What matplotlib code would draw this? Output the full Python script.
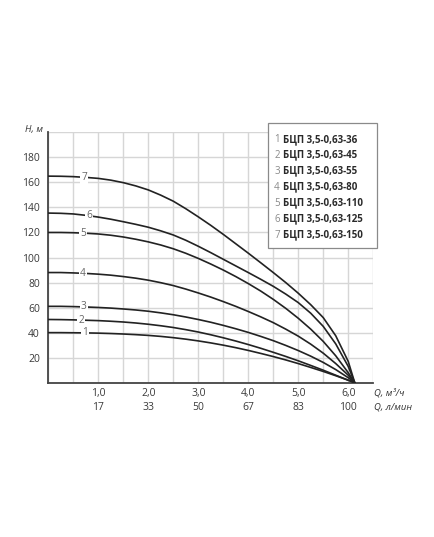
import numpy as np
import matplotlib
matplotlib.use('Agg')
import matplotlib.pyplot as plt
from matplotlib.patches import Rectangle

plt.rcParams['font.family'] = ['Open Sans', 'DejaVu Sans']

# Flow Q (m3/h) and head H (m)
q = [0, 0.25, 0.5, 0.75, 1.0, 1.25, 1.5, 1.75, 2.0, 2.25, 2.5, 2.75, 3.0,
     3.25, 3.5, 3.75, 4.0, 4.25, 4.5, 4.75, 5.0, 5.25, 5.5, 5.75, 6.0, 6.13]
h1 = [40, 40, 39.9, 39.8, 39.6, 39.3, 38.9, 38.4, 37.8, 37, 36, 34.8, 33.4,
      31.8, 30, 28, 25.8, 23.4, 20.9, 18.2, 15.3, 12.2, 9, 5.6, 2, 0]
h2 = [50.5, 50.4, 50.2, 49.9, 49.6, 49.1, 48.5, 47.7, 46.7, 45.5, 44.1, 42.4, 40.5,
      38.3, 35.9, 33.3, 30.5, 27.5, 24.3, 21, 17.5, 13.8, 10, 6, 2, 0]
h3 = [61, 61, 60.8, 60.5, 60.1, 59.6, 58.9, 58.1, 57.1, 55.8, 54.3, 52.5, 50.5,
      48.3, 45.8, 43.1, 40.2, 37, 33.6, 29.8, 25.7, 21.2, 16.2, 10.5, 4, 0]
h4 = [88, 88, 87.7, 87.3, 86.7, 85.9, 84.8, 83.5, 81.9, 79.9, 77.6, 74.8, 71.7,
      68.4, 64.8, 61, 56.9, 52.6, 48, 42.8, 37.2, 30.8, 23.6, 15.3, 6, 0]
h5 = [120, 120, 119.8, 119.4, 118.8, 117.8, 116.4, 114.6, 112.5, 110, 107, 103.4, 99.3,
      94.8, 90, 84.8, 79.2, 73.2, 66.6, 59.4, 51.5, 42.8, 33, 21.5, 8, 0]
h6 = [135.5, 135.3, 134.8, 133.7, 132.3, 130.6, 128.6, 126.5, 124.2, 121.3, 118, 113.8, 109,
      103.9, 98.6, 93.3, 88, 82.6, 77, 70.8, 64, 55.5, 45, 31, 13, 0]
h7 = [165, 164.9, 164.6, 164, 163.2, 161.8, 159.8, 157.2, 154, 149.8, 145, 139, 132.5,
      125.7, 118.5, 111, 103.5, 95.8, 88, 80, 71.5, 62.3, 52, 37.5, 17, 0]
curves = [h1, h2, h3, h4, h5, h6, h7]
curve_ids = ['1', '2', '3', '4', '5', '6', '7']
label_q = [0.73, 0.66, 0.71, 0.69, 0.70, 0.82, 0.72]

models = ['БЦП 3,5-0,63-36', 'БЦП 3,5-0,63-45', 'БЦП 3,5-0,63-55',
          'БЦП 3,5-0,63-80', 'БЦП 3,5-0,63-110', 'БЦП 3,5-0,63-125',
          'БЦП 3,5-0,63-150']

x_ticks = [1, 2, 3, 4, 5, 6]
x_labels_m3h = ['1,0', '2,0', '3,0', '4,0', '5,0', '6,0']
x_labels_lmin = ['17', '33', '50', '67', '83', '100']
y_ticks = [0, 20, 40, 60, 80, 100, 120, 140, 160, 180, 200]
y_labels = ['', '20', '40', '60', '80', '100', '120', '140', '160', '180', '']

fig = plt.figure(figsize=(4.35, 5.37), dpi=100)
ax = fig.add_axes([0.111, 0.2873, 0.747, 0.4663])
ax.set_xlim(0, 6.5)
ax.set_ylim(0, 200)

ax.set_xticks(np.arange(0, 6.51, 0.5))
ax.set_xticklabels([])
ax.set_yticks(y_ticks)
ax.set_yticklabels(y_labels, fontsize=7.5, color='#3a3a3a')
ax.tick_params(length=0, pad=6)
ax.grid(True, color='#d6d6d6', lw=1.0)
ax.set_axisbelow(True)
for s in ['top', 'right']:
    ax.spines[s].set_visible(False)
for s in ['left', 'bottom']:
    ax.spines[s].set_color('#444444')
    ax.spines[s].set_linewidth(1.3)

for h, cid, lq in zip(curves, curve_ids, label_q):
    ax.plot(q, h, color='#222222', lw=1.2, zorder=3, solid_joinstyle='round')
    ly = np.interp(lq, q, h)
    ax.text(lq, ly, cid, fontsize=7.3, color='#666666', ha='center', va='center',
            zorder=4, bbox=dict(facecolor='white', edgecolor='none', pad=0.8))

for xt, l1, l2 in zip(x_ticks, x_labels_m3h, x_labels_lmin):
    ax.text(xt, -0.042, l1, transform=ax.get_xaxis_transform(), ha='center',
            va='center', fontsize=7.5, color='#3a3a3a')
    ax.text(xt, -0.097, l2, transform=ax.get_xaxis_transform(), ha='center',
            va='center', fontsize=7.5, color='#3a3a3a')

ax.text(6.52, -0.042, 'Q, м³/ч', transform=ax.get_xaxis_transform(), ha='left',
        va='center', fontsize=6.8, style='italic', color='#333333')
ax.text(6.52, -0.097, 'Q, л/мин', transform=ax.get_xaxis_transform(), ha='left',
        va='center', fontsize=6.8, style='italic', color='#333333')
ax.text(-0.1, 202, 'H, м', ha='right', va='center', fontsize=6.8,
        style='italic', color='#333333', clip_on=False)

# legend box
ax.add_patch(Rectangle((0.676, 0.538), 0.335, 0.499, transform=ax.transAxes,
                       clip_on=False, facecolor='white', edgecolor='#8a8a8a',
                       lw=0.9, zorder=5))
for i, (cid, m) in enumerate(zip(curve_ids, models)):
    py = 139.3 + 15.95 * i
    ya = (382.7 - py) / 250.4
    ax.text(0.7125, ya, cid, transform=ax.transAxes, ha='right', va='center',
            fontsize=7, color='#8a8a8a', zorder=6)
    ax.text(0.7215, ya, m, transform=ax.transAxes, ha='left', va='center',
            fontsize=7, fontweight='bold', color='#2a2a2a', zorder=6)

fig.savefig('out.png', dpi=100)
